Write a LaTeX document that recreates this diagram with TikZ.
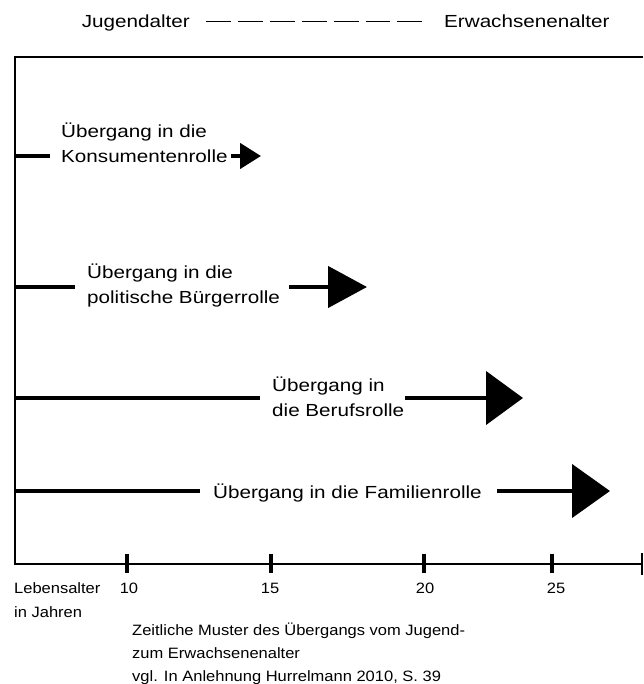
\documentclass[tikz,border=0pt]{standalone}
\usepackage{fontspec}
\setmainfont{Liberation Sans}[FakeStretch=1.18]
\newfontfamily\axisfont{Liberation Sans}[FakeStretch=1.1]
\usetikzlibrary{arrows.meta}

\begin{document}
\begin{tikzpicture}[
    % one unit is one pixel of the original, y runs down
    x=1pt, y=-1pt,
    % texts (base of a two-line text is its last line)
    title/.style = {font=\fontsize{17.5}{25}\selectfont, inner sep=0pt, text height=13pt, text depth=0pt},
    roletext/.style = {font=\fontsize{17.5}{25}\selectfont, align=left, inner sep=0pt, anchor=base west},
    axistext/.style = {font=\axisfont\fontsize{15}{23}\selectfont, inner sep=0pt},
    % lines
    frame/.style = {draw=black, line width=2.2pt},
    bar/.style = {draw=black, line width=4.5pt},
    role/.style 2 args = {bar, -{Triangle[length=#1, width=#2]}},
    tickmark/.style = {draw=black, line width=4pt}
    ]

    \useasboundingbox (0,0) rectangle (643,684);

    % frame
    \coordinate (topR) at (643,57);
    \coordinate (topL) at (15,57);
    \coordinate (O) at (15,564);
    \coordinate (axisR) at (642,564);

    % rows: start on the axis, end of the left bar, start of the shaft, tip
    \coordinate (K0) at (15,156);  \coordinate (K1) at (50,156);
    \coordinate (K2) at (231,156); \coordinate (K3) at (261,156);

    \coordinate (P0) at (15,287);  \coordinate (P1) at (75,287);
    \coordinate (P2) at (289,287); \coordinate (P3) at (367,287);

    \coordinate (B0) at (15,398);  \coordinate (B1) at (260,398);
    \coordinate (B2) at (405,398); \coordinate (B3) at (523,398);

    \coordinate (F0) at (15,491);  \coordinate (F1) at (200,491);
    \coordinate (F2) at (497,491); \coordinate (F3) at (610,491);

    % nodes
    \node (jugend)    [title, anchor=base east] at (190,28) {Jugendalter};
    \node (erwachsen) [title, anchor=base west] at (444,28) {Erwachsenenalter};

    \node (konsum)  [roletext] at (61,163)  {Übergang in die\\Konsumentenrolle};
    \node (politik) [roletext] at (87,303)  {Übergang in die\\politische Bürgerrolle};
    \node (beruf)   [roletext] at (272,416) {Übergang in\\die Berufsrolle};
    \node (familie) [roletext] at (213,498) {Übergang in die Familienrolle};

    \node (lebensalter) [axistext, anchor=base west, align=left, font=\axisfont\fontsize{15}{24}\selectfont]
        at (14,617) {Lebensalter\\in Jahren};
    \node (quelle) [axistext, anchor=base west, align=left] at (132,681)
        {Zeitliche Muster des Übergangs vom Jugend-\\zum Erwachsenenalter\\vgl. In Anlehnung Hurrelmann 2010, S. 39};

    % edges
    \draw[dash pattern=on 24.9pt off 7pt, line width=1.3pt]
        ([xshift=16pt]jugend.east) -- ([xshift=-22pt]erwachsen.west);

    \draw[frame] (topR) -- (topL) -- (O) -- (axisR);
    \draw[frame] ([yshift=11pt]axisR) -- ([yshift=-11pt]axisR);

    \foreach \x/\lx/\l in {127/129/10, 271/270/15, 424/425/20, 552/556/25} {
        \draw[tickmark] (\x,554) -- (\x,573);
        \node (age\l) [axistext, anchor=base] at (\lx,593) {\l};
    }

    \draw[bar] (K0) -- (K1);
    \draw[role={21pt}{25pt}] (K2) -- (K3);

    \draw[bar] (P0) -- (P1);
    \draw[role={39pt}{41pt}] (P2) -- (P3);

    \draw[bar] (B0) -- (B1);
    \draw[role={37pt}{53pt}] (B2) -- (B3);

    \draw[bar] (F0) -- (F1);
    \draw[role={38pt}{53pt}] (F2) -- (F3);
\end{tikzpicture}
\end{document}
